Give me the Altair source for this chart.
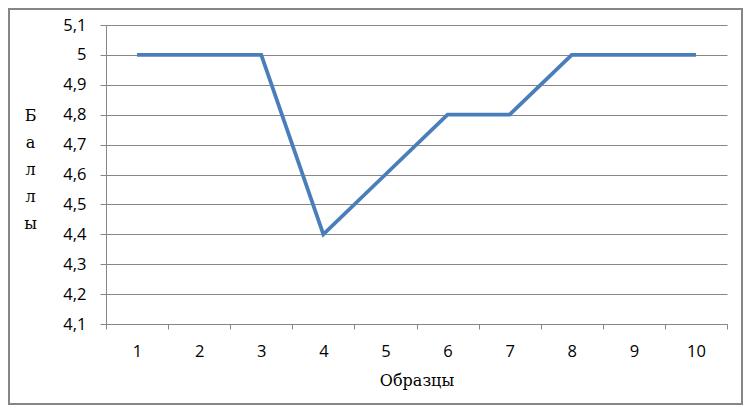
import altair as alt
import pandas as pd

samples = [1, 2, 3, 4, 5, 6, 7, 8, 9, 10]
scores = [5.0, 5.0, 5.0, 4.4, 4.6, 4.8, 4.8, 5.0, 5.0, 5.0]
y_ticks = [4.1, 4.2, 4.3, 4.4, 4.5, 4.6, 4.7, 4.8, 4.9, 5.0, 5.1]
y_title = ["Б", "а", "л", "л", "ы"]
x_title = "Образцы"

df = pd.DataFrame({"sample": samples, "score": scores})

W, H = 621, 299
PL, PT, PR, PB = 98, 17, 16, 81

line = alt.Chart(df).mark_line(color="#4A7EBB", strokeWidth=3.8, strokeJoin="miter").encode(
    x=alt.X(
        "sample:O",
        bandPosition=0.5,
        scale=alt.Scale(type="band", paddingInner=0, paddingOuter=0),
        axis=alt.Axis(
            title=x_title,
            labelAngle=0,
            tickBand="extent",
            domainColor="#868686",
            tickColor="#868686",
            tickSize=5,
            labelFont="Open Sans",
            labelFontSize=16.5,
            labelColor="#000000",
            labelPadding=14,
            titleFont="DejaVu Serif",
            titleFontSize=16,
            titleFontWeight="normal",
            titleColor="#000000",
            titlePadding=13,
            grid=False,
        ),
    ),
    y=alt.Y(
        "score:Q",
        scale=alt.Scale(domain=[4.1, 5.1], nice=False, zero=False),
        axis=alt.Axis(
            title=y_title,
            values=y_ticks,
            labelExpr="replace(format(datum.value, '.1~f'), '.', ',')",
            grid=True,
            gridColor="#868686",
            gridWidth=1,
            domainColor="#868686",
            tickColor="#868686",
            tickSize=6,
            labelFont="Open Sans",
            labelFontSize=16.5,
            labelColor="#000000",
            labelPadding=14,
            titleAngle=0,
            titleFont="DejaVu Serif",
            titleFontSize=16,
            titleFontWeight="normal",
            titleColor="#000000",
            titleLineHeight=27,
            titleAlign="center",
            titleBaseline="middle",
            titleX=-76,
            titleY=90,
        ),
    ),
)

frame = alt.Chart(df).mark_rect(fill=None, stroke="#868686", strokeWidth=1.5).encode(
    x=alt.value(-PL + 1),
    x2=alt.value(W + PR - 1),
    y=alt.value(-PT + 1),
    y2=alt.value(H + PB - 1),
)

chart = alt.layer(line, frame).properties(
    width=W,
    height=H,
    autosize=alt.AutoSizeParams(type="none"),
    padding={"left": PL, "top": PT, "right": PR, "bottom": PB},
    background="white",
).configure_view(stroke=None)

chart.save("out.html", embed_options={"renderer": "svg", "actions": False})
